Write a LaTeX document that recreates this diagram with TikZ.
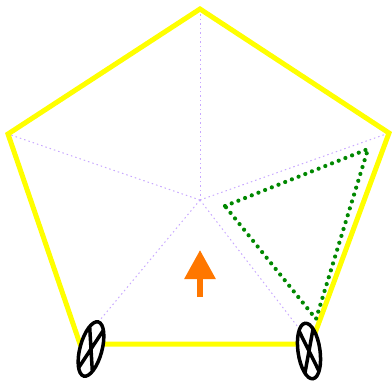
\documentclass[tikz,border=0pt]{standalone}
\usetikzlibrary{arrows.meta}
\definecolor{cyellow}{HTML}{FFFF00}
\definecolor{cgreen}{HTML}{008800}
\definecolor{clilac}{HTML}{C8A8FF}
\definecolor{corange}{HTML}{FF7700}
\tikzset{
  every picture/.style={line join=miter},
  frame/.style={draw=cyellow, line width=5pt},
  spoke/.style={draw=clilac, line width=1pt, dash pattern=on 1.5pt off 3pt},
  zone/.style={draw=cgreen, line width=4.2pt, line cap=round, dash pattern=on 0pt off 7.2pt},
  heading/.style={draw=corange, line width=6pt, -{Triangle[width=30pt, length=29pt]}},
  wheel/.style={draw=black, fill=white, line width=3.5pt},
}
\begin{document}
\begin{tikzpicture}[x=1pt, y=-1pt]
  \useasboundingbox (0,0) rectangle (392,383);
  % body corners
  \coordinate (c) at (200,200);
  \coordinate (top) at (200,9);
  \coordinate (right) at (389,133);
  \coordinate (br) at (311,344);
  \coordinate (bl) at (80,344);
  \coordinate (left) at (8,134);
  \foreach \v in {top, right, br, bl, left}
    \draw[spoke] (c) -- (\v);
  \draw[frame] (top) -- (right) -- (br) -- (bl) -- (left) -- cycle;
  % field of view
  \coordinate (f1) at (225,206);
  \coordinate (f2) at (368,149);
  \coordinate (f3) at (316,319);
  \draw[zone] (f1) -- (f2) -- (f3) -- cycle;
  % heading
  \coordinate (h0) at (200,297);
  \coordinate (h1) at (200,250);
  \draw[heading] (h0) -- (h1);
  % wheels
  \foreach \wx/\wy/\a in {91/349/-15, 309/351/8} {
    \begin{scope}[shift={(\wx,\wy)}, rotate=\a]
      \draw[wheel] (0,0) ellipse [x radius=11, y radius=28];
      \draw[wheel] (-7,-21) -- (7,21) (7,-21) -- (-7,21);
    \end{scope}
  }
\end{tikzpicture}
\end{document}
